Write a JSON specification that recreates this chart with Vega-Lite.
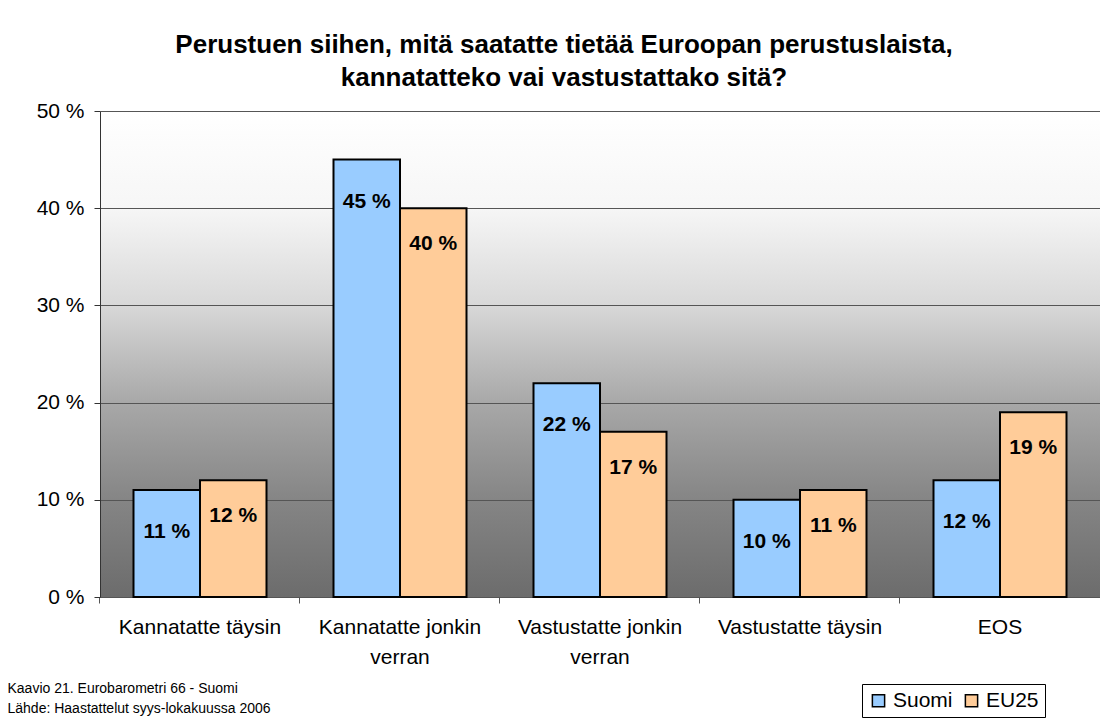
{
  "$schema": "https://vega.github.io/schema/vega-lite/v6.json",
  "autosize": {"type": "none"},
  "width": 1000,
  "height": 486,
  "padding": {"left": 100, "top": 111, "right": 0, "bottom": 127},
  "background": "white",
  "config": {
    "font": "Liberation Sans",
    "view": {
      "stroke": null,
      "fill": {"gradient": "linear", "x1": 0, "y1": 0, "x2": 0, "y2": 1,
        "stops": [
          {"offset": 0, "color": "#ffffff"},
          {"offset": 0.2, "color": "#f6f6f6"},
          {"offset": 0.4, "color": "#d8d8d8"},
          {"offset": 0.6, "color": "#a8a8a8"},
          {"offset": 0.8, "color": "#858585"},
          {"offset": 1, "color": "#6c6c6c"}
        ]}
    }
  },
  "title": {
    "text": ["Perustuen siihen, mitä saatatte tietää Euroopan perustuslaista,", "kannatatteko vai vastustattako sitä?"],
    "fontSize": 26,
    "fontWeight": "bold",
    "color": "black",
    "lineHeight": 33,
    "anchor": "middle",
    "frame": "group",
    "dx": -36,
    "offset": 9
  },
  "data": {
    "values": [
      {"kategoria": "Kannatatte täysin", "sarja": "Suomi", "arvo": 11},
      {"kategoria": "Kannatatte täysin", "sarja": "EU25", "arvo": 12},
      {"kategoria": "Kannatatte jonkin verran", "sarja": "Suomi", "arvo": 45},
      {"kategoria": "Kannatatte jonkin verran", "sarja": "EU25", "arvo": 40},
      {"kategoria": "Vastustatte jonkin verran", "sarja": "Suomi", "arvo": 22},
      {"kategoria": "Vastustatte jonkin verran", "sarja": "EU25", "arvo": 17},
      {"kategoria": "Vastustatte täysin", "sarja": "Suomi", "arvo": 10},
      {"kategoria": "Vastustatte täysin", "sarja": "EU25", "arvo": 11},
      {"kategoria": "EOS", "sarja": "Suomi", "arvo": 12},
      {"kategoria": "EOS", "sarja": "EU25", "arvo": 19}
    ]
  },
  "transform": [{"calculate": "datum.arvo + ' %'", "as": "nimio"}],
  "encoding": {
    "x": {
      "field": "kategoria",
      "type": "nominal",
      "sort": null,
      "scale": {"paddingInner": 0.335, "paddingOuter": 0.1675},
      "axis": {
        "title": ["Kaavio 21. Eurobarometri 66 - Suomi", "Lähde: Haastattelut syys-lokakuussa 2006"],
        "titleFontSize": 14,
        "titleFontWeight": "normal",
        "titleColor": "black",
        "titleAnchor": "start",
        "titleAlign": "left",
        "titleBaseline": "top",
        "titleLineHeight": 20,
        "titleX": -93,
        "titleY": 84,
        "labelAngle": 0,
        "labelFontSize": 21,
        "labelColor": "black",
        "labelLineHeight": 30,
        "labelBaseline": "top",
        "labelPadding": 13,
        "labelExpr": "datum.label == 'Kannatatte jonkin verran' ? ['Kannatatte jonkin', 'verran'] : datum.label == 'Vastustatte jonkin verran' ? ['Vastustatte jonkin', 'verran'] : datum.label",
        "bandPosition": -0.2519,
        "tickSize": 6,
        "tickColor": "#555555",
        "domainColor": "#555555",
        "grid": false
      }
    },
    "y": {
      "type": "quantitative",
      "scale": {"domain": [0, 50]},
      "axis": {
        "title": null,
        "values": [0, 10, 20, 30, 40, 50],
        "labelExpr": "datum.value + ' %'",
        "labelFontSize": 21,
        "labelColor": "black",
        "labelPadding": 10,
        "tickSize": 6,
        "tickColor": "#333333",
        "domainColor": "#333333",
        "gridColor": "#555555",
        "gridOpacity": 1
      }
    },
    "xOffset": {"field": "sarja", "type": "nominal", "sort": ["Suomi", "EU25"], "scale": {"paddingInner": 0, "paddingOuter": 0}}
  },
  "layer": [
    {
      "mark": {"type": "bar", "stroke": "black", "strokeWidth": 2},
      "encoding": {
        "y": {"field": "arvo"},
        "color": {
          "field": "sarja",
          "type": "nominal",
          "sort": ["Suomi", "EU25"],
          "scale": {"domain": ["Suomi", "EU25"], "range": ["#99ccff", "#ffcc99"]},
          "legend": {
            "title": null,
            "orient": "none",
            "legendX": 762,
            "legendY": 573,
            "direction": "horizontal",
            "symbolType": "square",
            "symbolSize": 150,
            "symbolStrokeColor": "black",
            "symbolStrokeWidth": 1.5,
            "symbolOpacity": 1,
            "labelFontSize": 21,
            "labelColor": "black",
            "labelOffset": 4,
            "columnPadding": 8,
            "strokeColor": "black",
            "fillColor": "white",
            "padding": 6
          }
        }
      }
    },
    {
      "transform": [{"filter": "datum.sarja == 'Suomi'"}],
      "mark": {"type": "text", "fontSize": 21, "fontWeight": "bold", "color": "black", "baseline": "middle", "dy": 42},
      "encoding": {
        "y": {"field": "arvo"},
        "text": {"field": "nimio", "type": "nominal"}
      }
    },
    {
      "transform": [{"filter": "datum.sarja == 'EU25'"}],
      "mark": {"type": "text", "fontSize": 21, "fontWeight": "bold", "color": "black", "baseline": "middle", "dy": 36},
      "encoding": {
        "y": {"field": "arvo"},
        "text": {"field": "nimio", "type": "nominal"}
      }
    }
  ]
}
